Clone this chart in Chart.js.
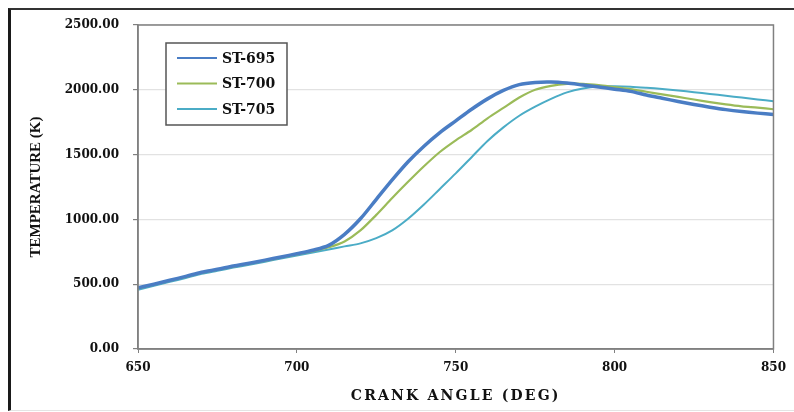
<!DOCTYPE html>
<html>
<head>
<meta charset="utf-8">
<style>
  html, body { margin: 0; padding: 0; background: #fff; }
  #wrap { position: relative; width: 794px; height: 412px; }
  #frame { position: absolute; left: 8px; top: 8px; right: 0; bottom: 1px;
           border-left: 3px solid #1a1a1a; border-top: 2px solid #333;
           border-bottom: 1px solid #e4e4e4; pointer-events: none; }
  canvas { position: absolute; left: 0; top: 0; }
</style>
<script src="https://cdn.jsdelivr.net/npm/chart.js@4.4.1/dist/chart.umd.min.js"></script>
</head>
<body>
<div id="wrap">
  <canvas id="grafico" width="794" height="412"></canvas>
  <div id="frame"></div>
</div>
<script>
const angulos = [650, 655, 660, 665, 670, 675, 680, 685, 690, 695, 700, 705, 710, 715, 720,
  725, 730, 735, 740, 745, 750, 755, 760, 765, 770, 775, 780, 785, 790, 795, 800,
  805, 810, 815, 820, 825, 830, 835, 840, 845, 850];

const st695 = [472, 500, 530, 560, 592, 615, 640, 662, 686, 710, 735, 762, 800, 885, 1005,
  1155, 1305, 1445, 1565, 1670, 1760, 1850, 1930, 1995, 2040, 2057, 2060, 2052, 2037, 2022, 2005,
  1988, 1960, 1935, 1910, 1887, 1866, 1847, 1832, 1820, 1810];

const st700 = [468, 497, 527, 557, 588, 612, 636, 658, 682, 706, 730, 755, 785, 830, 915,
  1035, 1165, 1290, 1410, 1520, 1610, 1690, 1780, 1860, 1940, 2000, 2030, 2045, 2046, 2036, 2020,
  2005, 1985, 1965, 1945, 1925, 1905, 1887, 1872, 1862, 1850];

const st705 = [456, 487, 518, 548, 580, 604, 628, 650, 674, 698, 722, 745, 768, 792, 815,
  855, 915, 1005, 1115, 1235, 1355, 1480, 1605, 1710, 1800, 1870, 1930, 1980, 2010, 2025, 2027,
  2024, 2016, 2006, 1995, 1982, 1968, 1954, 1940, 1926, 1912];

const ticksY = [0, 500, 1000, 1500, 2000, 2500];

const pontos = serie => angulos.map((a, i) => ({ x: a, y: serie[i] }));

// moldura do gráfico + legenda dentro da área
const extras = {
  id: "extras",
  afterDraw(chart) {
    const { ctx, chartArea: ca } = chart;
    ctx.save();
    ctx.strokeStyle = "#808080";
    ctx.lineWidth = 1.5;
    ctx.strokeRect(ca.left, ca.top, ca.right - ca.left, ca.bottom - ca.top);

    // legenda
    ctx.fillStyle = "#fff";
    ctx.fillRect(166, 43, 121, 82);
    ctx.strokeStyle = "#555";
    ctx.lineWidth = 1.5;
    ctx.strokeRect(166, 43, 121, 82);
    ctx.font = "bold 14px 'DejaVu Serif'";
    ctx.textBaseline = "middle";
    chart.data.datasets.forEach((ds, i) => {
      const y = 58 + i * 25.5;
      ctx.strokeStyle = ds.borderColor;
      ctx.lineWidth = 2;
      ctx.beginPath();
      ctx.moveTo(177, y);
      ctx.lineTo(217, y);
      ctx.stroke();
      ctx.fillStyle = "#111";
      ctx.fillText(ds.label, 222, y + 1);
    });

    // título do eixo x
    ctx.font = "bold 14px 'DejaVu Serif'";
    ctx.textAlign = "center";
    if ("letterSpacing" in ctx) ctx.letterSpacing = "2.2px";
    ctx.fillStyle = "#111";
    ctx.fillText("CRANK ANGLE (DEG)", (ca.left + ca.right) / 2, 396);
    ctx.restore();
  }
};

new Chart(document.getElementById("grafico"), {
  type: "line",
  data: {
    datasets: [
      { label: "ST-695", data: pontos(st695), borderColor: "#4A7DC4", borderWidth: 3.5 },
      { label: "ST-700", data: pontos(st700), borderColor: "#9BBB59", borderWidth: 2.2 },
      { label: "ST-705", data: pontos(st705), borderColor: "#4BACC6", borderWidth: 2 }
    ]
  },
  options: {
    responsive: false,
    animation: false,
    layout: { padding: { left: 0, right: 20, top: 25, bottom: 0 } },
    elements: { point: { radius: 0 }, line: { tension: 0.3 } },
    plugins: { legend: { display: false }, tooltip: { enabled: false } },
    scales: {
      x: {
        type: "linear",
        min: 650, max: 850,
        afterFit: s => { s.height = 63; },
        border: { color: "#808080", width: 1.5 },
        grid: { drawOnChartArea: false, tickLength: 4, color: "#808080" },
        ticks: {
          stepSize: 50, padding: 8, color: "#111",
          font: { family: "DejaVu Serif", weight: "bold", size: 12 }
        }
      },
      y: {
        min: 0, max: 2500,
        afterFit: s => { s.width = 138; },
        afterBuildTicks: s => { s.ticks = ticksY.map(v => ({ value: v })); },
        border: { color: "#808080", width: 1.5 },
        grid: { color: "#e2e2e2", lineWidth: 1.2, tickLength: 5, tickColor: "#808080" },
        ticks: {
          padding: 14, color: "#111",
          font: { family: "DejaVu Serif", weight: "bold", size: 12 },
          callback: v => v.toFixed(2)
        },
        title: {
          display: true, text: "TEMPERATURE (K)", color: "#111",
          padding: { top: 27, bottom: 0 },
          font: { family: "Liberation Serif", weight: "bold", size: 15 }
        }
      }
    }
  },
  plugins: [extras]
});
</script>
</body>
</html>
